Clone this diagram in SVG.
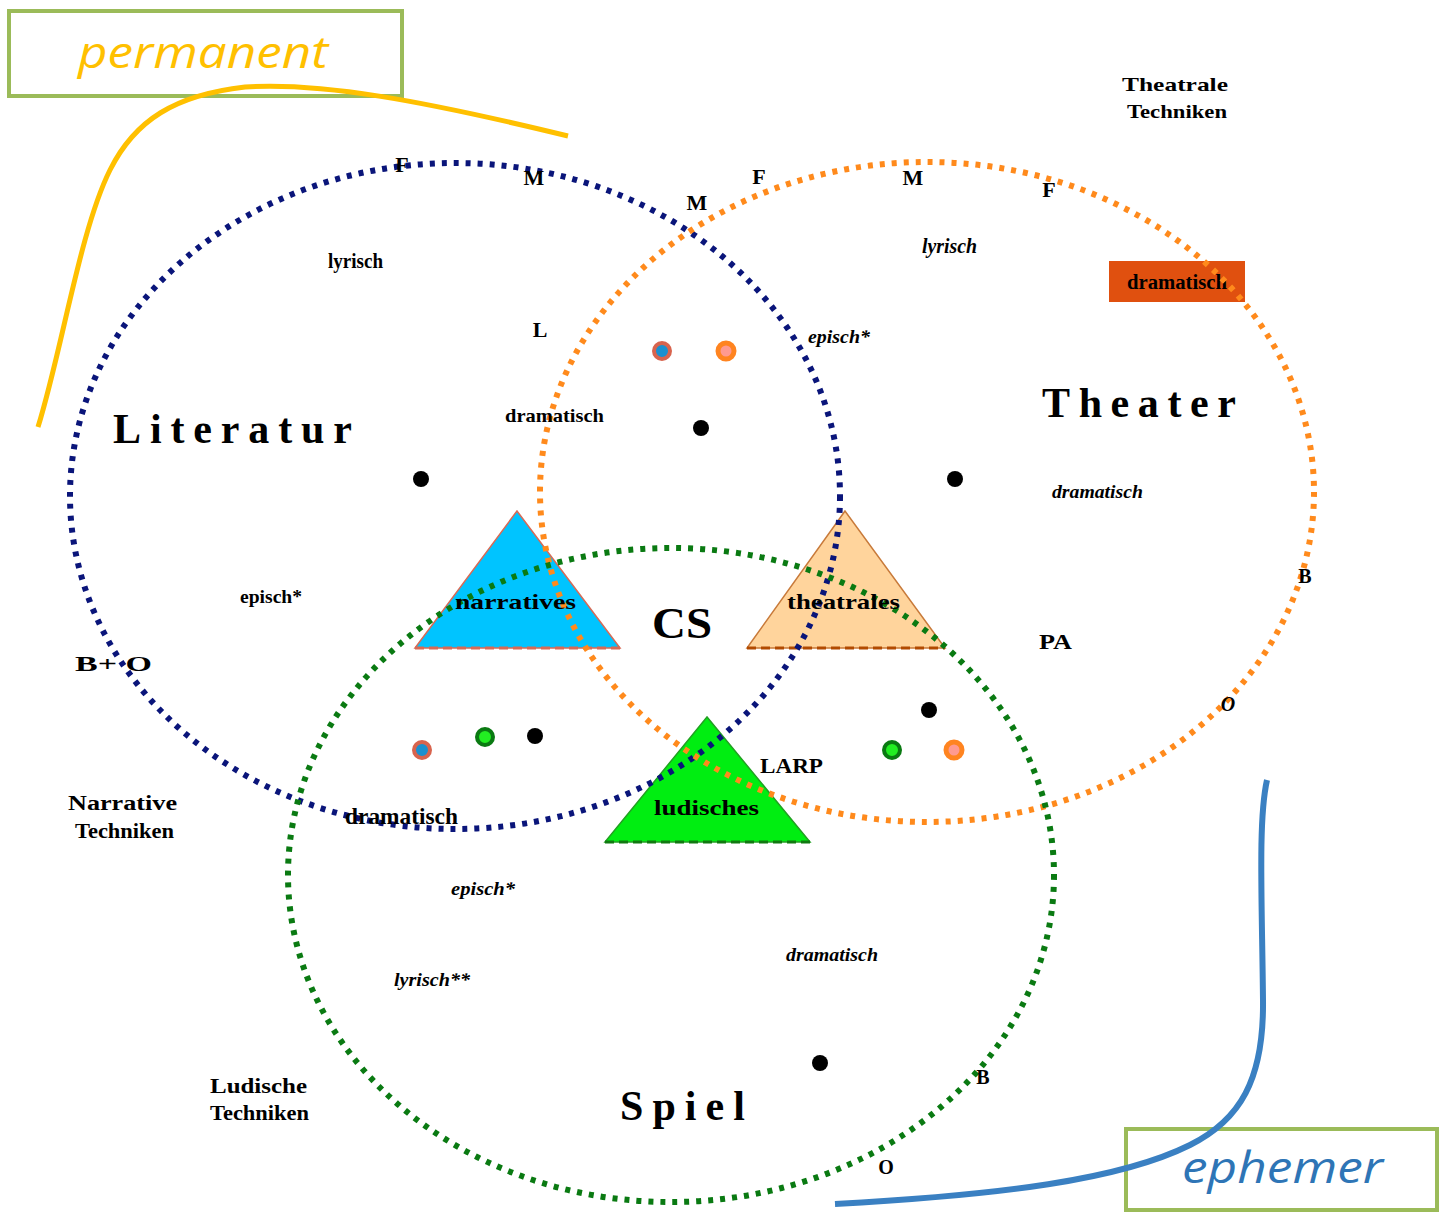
<svg xmlns="http://www.w3.org/2000/svg" width="1446" height="1212" viewBox="0 0 1446 1212">
<style>
.lbl{font-family:"Liberation Serif","DejaVu Serif",serif;font-weight:bold;fill:#000}
.it{font-family:"Liberation Serif","DejaVu Serif",serif;font-style:italic;font-weight:bold;fill:#000}
.big{font-family:"Liberation Serif","DejaVu Serif",serif;font-weight:bold;fill:#000;font-size:42px}
.ring{fill:none;stroke-width:6;stroke-dasharray:5 7}
.blk{fill:#000}
.tag{fill:none;stroke:#9bbb59;stroke-width:4}
.cal{font-family:"Open Sans","Noto Sans","Liberation Sans",sans-serif;font-style:italic;font-size:44px}
</style>
<rect width="1446" height="1212" fill="#fff"/>

<g id="tri-narratives">
<polygon points="517,511 415,648 620,648" fill="#00c4ff" stroke="#d86a55" stroke-width="1.5"/>
<line x1="415" y1="648" x2="620" y2="648" stroke="#d86a55" stroke-width="3" stroke-dasharray="9 5"/>
</g>
<g id="tri-theatrales">
<polygon points="845,511 747,648 945,648" fill="#ffd49c" stroke="#c87a3a" stroke-width="1.5"/>
<line x1="747" y1="648" x2="945" y2="648" stroke="#b24a00" stroke-width="3" stroke-dasharray="9 5"/>
</g>
<g id="tri-ludisches">
<polygon points="707,717 605,842 810,842" fill="#00ee11" stroke="#22a022" stroke-width="1.5"/>
<line x1="605" y1="842" x2="810" y2="842" stroke="#117a11" stroke-width="3" stroke-dasharray="9 5"/>
</g>

<g id="box-dramatisch">
<rect x="1109" y="261" width="136" height="41" fill="#e0500f"/>
<text class="lbl" x="1127" y="289" font-size="20" textLength="100" lengthAdjust="spacingAndGlyphs">dramatisch</text>
</g>

<g id="literatur">
<ellipse class="ring" cx="455" cy="496" rx="385" ry="333" stroke="#0a157a"/>
<text class="big" x="113" y="443" textLength="239" lengthAdjust="spacing">Literatur</text>
</g>
<g id="theater">
<ellipse class="ring" cx="927" cy="492" rx="387" ry="330" stroke="#ff8a1c"/>
<text class="big" x="1042" y="417" textLength="194" lengthAdjust="spacing">Theater</text>
</g>
<g id="spiel">
<ellipse class="ring" cx="671" cy="875" rx="383" ry="327" stroke="#0a7a12"/>
<text class="big" x="620" y="1120" textLength="125" lengthAdjust="spacing">Spiel</text>
</g>

<g id="permanent">
<rect class="tag" x="9" y="11" width="393" height="85"/>
<text class="cal" x="78" y="68" fill="#ffc000" textLength="250" lengthAdjust="spacingAndGlyphs">permanent</text>
</g>
<g id="ephemer">
<rect class="tag" x="1126" y="1129" width="311" height="81"/>
<text class="cal" x="1182" y="1183" fill="#2e75b6" textLength="201" lengthAdjust="spacingAndGlyphs">ephemer</text>
</g>

<g id="connectors">
<path d="M38,427 C62,350 80,230 110,170 C135,120 175,95 245,87 C320,82 420,100 568,136" fill="none" stroke="#ffc000" stroke-width="5"/>
<path d="M1267,780 C1258,820 1262,900 1263,1000 C1264,1080 1240,1120 1190,1145 C1120,1180 1000,1195 835,1204" fill="none" stroke="#3a80c2" stroke-width="6"/>
</g>

<g id="dots">
<circle class="blk" cx="421" cy="479" r="8"/>
<circle class="blk" cx="701" cy="428" r="8"/>
<circle class="blk" cx="955" cy="479" r="8"/>
<circle class="blk" cx="535" cy="736" r="8"/>
<circle class="blk" cx="929" cy="710" r="8"/>
<circle class="blk" cx="820" cy="1063" r="8"/>
<circle cx="662" cy="351" r="8" fill="#1a90d0" stroke="#d8644e" stroke-width="4"/>
<circle cx="726" cy="351" r="8" fill="#ff9a90" stroke="#ff8420" stroke-width="5"/>
<circle cx="422" cy="750" r="8" fill="#1a90d0" stroke="#d8644e" stroke-width="4"/>
<circle cx="485" cy="737" r="8" fill="#22ee22" stroke="#0a7a12" stroke-width="4"/>
<circle cx="892" cy="750" r="8" fill="#22ee22" stroke="#0a7a12" stroke-width="4"/>
<circle cx="954" cy="750" r="8" fill="#ff9a90" stroke="#ff8420" stroke-width="5"/>
</g>

<g id="labels">
<text class="lbl" x="1175" y="91" font-size="19" text-anchor="middle" textLength="106" lengthAdjust="spacingAndGlyphs">Theatrale</text>
<text class="lbl" x="1177" y="118" font-size="19" text-anchor="middle" textLength="100" lengthAdjust="spacingAndGlyphs">Techniken</text>
<text class="lbl" x="402" y="172" font-size="22" text-anchor="middle">F</text>
<text class="lbl" x="534" y="185" font-size="22" text-anchor="middle">M</text>
<text class="lbl" x="697" y="210" font-size="22" text-anchor="middle">M</text>
<text class="lbl" x="759" y="184" font-size="22" text-anchor="middle">F</text>
<text class="lbl" x="913" y="185" font-size="22" text-anchor="middle">M</text>
<text class="lbl" x="1049" y="197" font-size="22" text-anchor="middle">F</text>
<text class="lbl" x="328" y="268" font-size="20" textLength="55" lengthAdjust="spacingAndGlyphs">lyrisch</text>
<text class="it" x="922" y="253" font-size="20" textLength="55" lengthAdjust="spacingAndGlyphs">lyrisch</text>
<text class="lbl" x="540" y="337" font-size="22" text-anchor="middle">L</text>
<text class="it" x="808" y="343" font-size="19" textLength="62" lengthAdjust="spacingAndGlyphs">episch*</text>
<text class="lbl" x="505" y="422" font-size="19" textLength="99" lengthAdjust="spacingAndGlyphs">dramatisch</text>
<text class="it" x="1052" y="498" font-size="18" textLength="91" lengthAdjust="spacingAndGlyphs">dramatisch</text>
<text class="lbl" x="240" y="603" font-size="18" textLength="62" lengthAdjust="spacingAndGlyphs">episch*</text>
<text class="lbl" x="455" y="609" font-size="22" textLength="121" lengthAdjust="spacingAndGlyphs">narratives</text>
<text class="lbl" x="652" y="638" font-size="44" textLength="60" lengthAdjust="spacingAndGlyphs">CS</text>
<text class="lbl" x="787" y="609" font-size="22" textLength="113" lengthAdjust="spacingAndGlyphs">theatrales</text>
<text class="lbl" x="1039" y="649" font-size="20" textLength="33" lengthAdjust="spacingAndGlyphs">PA</text>
<text class="lbl" x="1305" y="583" font-size="20" text-anchor="middle">B</text>
<text class="lbl" x="75" y="671" font-size="22" textLength="77" lengthAdjust="spacingAndGlyphs">B+ O</text>
<text class="it" x="1228" y="711" font-size="20" text-anchor="middle">O</text>
<text class="lbl" x="760" y="773" font-size="22" textLength="63" lengthAdjust="spacingAndGlyphs">LARP</text>
<text class="lbl" x="68" y="810" font-size="20" textLength="109" lengthAdjust="spacingAndGlyphs">Narrative</text>
<text class="lbl" x="75" y="838" font-size="20" textLength="99" lengthAdjust="spacingAndGlyphs">Techniken</text>
<text class="lbl" x="654" y="815" font-size="22" textLength="105" lengthAdjust="spacingAndGlyphs">ludisches</text>
<text class="lbl" x="345" y="824" font-size="23" textLength="113" lengthAdjust="spacingAndGlyphs">dramatisch</text>
<text class="it" x="451" y="895" font-size="19" textLength="64" lengthAdjust="spacingAndGlyphs">episch*</text>
<text class="it" x="786" y="961" font-size="18" textLength="92" lengthAdjust="spacingAndGlyphs">dramatisch</text>
<text class="it" x="394" y="986" font-size="19" textLength="76" lengthAdjust="spacingAndGlyphs">lyrisch**</text>
<text class="lbl" x="210" y="1093" font-size="20" textLength="97" lengthAdjust="spacingAndGlyphs">Ludische</text>
<text class="lbl" x="210" y="1120" font-size="20" textLength="99" lengthAdjust="spacingAndGlyphs">Techniken</text>
<text class="lbl" x="983" y="1084" font-size="20" text-anchor="middle">B</text>
<text class="lbl" x="886" y="1174" font-size="20" text-anchor="middle">O</text>
</g>
</svg>
